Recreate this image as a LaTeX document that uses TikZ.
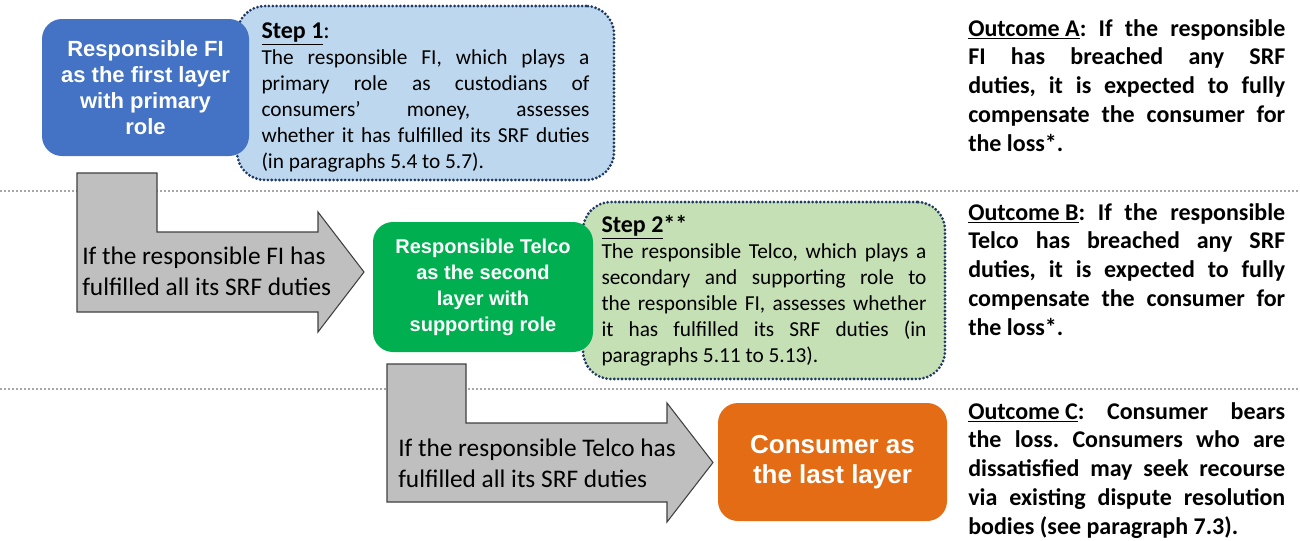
\documentclass[tikz,border=0pt]{standalone}
\usepackage{fontspec}
\setmainfont{Carlito}
\newfontfamily\layerfont{Liberation Sans}
\usepackage{xcolor}
\usetikzlibrary{positioning}
\frenchspacing

\definecolor{fiblue}{HTML}{4472C4}
\definecolor{stepblue}{HTML}{BDD7EE}
\definecolor{dotnavy}{HTML}{1F3864}
\definecolor{telcogreen}{HTML}{00B050}
\definecolor{stepgreen}{HTML}{C5E0B4}
\definecolor{consorange}{HTML}{E36C14}
\definecolor{flowgray}{HTML}{BFBFBF}
\definecolor{sepgray}{HTML}{A6A6A6}

\begin{document}
\begin{tikzpicture}[x=0.75pt, y=-0.75pt]
    \tikzset{
      layer/.style = {rectangle, rounded corners=15pt, align=center, inner sep=0pt, text=white, font=\layerfont\bfseries\fontsize{15}{19.5}\selectfont},
      stepbox/.style = {rectangle, rounded corners=21pt, draw=dotnavy, line width=2.3pt, dash pattern=on 0pt off 2.9pt, line cap=round, align=justify, inner sep=0pt, font=\fontsize{16}{19.5}\selectfont},
      outcome/.style = {anchor=north west, inner sep=0pt, text width=237.75pt, align=justify, font=\bfseries\fontsize{18}{21.6}\selectfont},
      flow/.style = {draw=black!75, fill=flowgray, line width=0.8pt, line join=miter},
      cond/.style = {anchor=west, align=left, inner sep=0pt, font=\fontsize{19}{23.5}\selectfont},
      sep/.style = {draw=sepgray, line width=1.5pt, dash pattern=on 1.5pt off 1.5pt}
    }
    \useasboundingbox (0,0) rectangle (1300,540);

    % separators between the three layers
    \draw [sep] (0,191) -- (1300,191);
    \draw [sep] (0,389) -- (1300,389);

    % steps
    \node (step1) [stepbox, fill=stepblue, text width=246pt, minimum width=282.75pt, minimum height=130.5pt] at (425.5,93)
      {{\fontsize{18}{22}\selectfont\rule{0pt}{19pt}\underline{\textbf{Step 1}}:\par}The responsible FI, which plays a\linebreak primary role as custodians of\linebreak consumers’ money, assesses\linebreak whether it has fulfilled its SRF duties\linebreak (in paragraphs 5.4 to 5.7).};
    \node (step2) [stepbox, fill=stepgreen, text width=243.75pt, minimum width=271.5pt, minimum height=132.75pt] at (764,290.5)
      {{\fontsize{18}{22}\selectfont\underline{\textbf{Step 2}}\textbf{**}\par}The responsible Telco, which plays a\linebreak secondary and supporting role to\linebreak the responsible FI, assesses whether\linebreak it has fulfilled its SRF duties (in\linebreak paragraphs 5.11 to 5.13).};

    % layers
    \node (fi) [layer, fill=fiblue, minimum width=155.25pt, minimum height=102.75pt, font=\layerfont\bfseries\fontsize{16.5}{19.5}\selectfont] at (145.5,87.5) {Responsible FI\\as the first layer\\with primary\\role};
    \node (telco) [layer, fill=telcogreen, minimum width=165pt, minimum height=97.5pt] at (483,287) {Responsible Telco\\as the second\\layer with\\supporting role};
    \node (consumer) [layer, fill=consorange, minimum width=171.75pt, minimum height=88.5pt, font=\layerfont\bfseries\fontsize{19.5}{22.5}\selectfont] at (832.5,462) {Consumer as\\the last layer};

    % bent arrows
    \draw [flow] (77,173) -- (157,173) -- (157,232) -- (318,232) -- (318,212) -- (364,272) -- (318,332) -- (318,312) -- (77,312) -- cycle;
    \node (cond1) [cond] at (82,271) {If the responsible FI has\\fulfilled all its SRF duties};
    \draw [flow] (387,364) -- (466,364) -- (466,423) -- (667,423) -- (667,403) -- (713,462.5) -- (667,522) -- (667,502) -- (387,502) -- cycle;
    \node (cond2) [cond] at (398,463) {If the responsible Telco has\\fulfilled all its SRF duties};

    % outcomes
    \node (outA) [outcome] at (968,19) {\underline{Outcome A}: If the responsible\linebreak FI has breached any SRF\linebreak duties, it is expected to fully\linebreak compensate the consumer for\linebreak the loss*.};
    \node (outB) [outcome] at (968,203) {\underline{Outcome B}: If the responsible\linebreak Telco has breached any SRF\linebreak duties, it is expected to fully\linebreak compensate the consumer for\linebreak the loss*.};
    \node (outC) [outcome] at (968,402) {\underline{Outcome C}: Consumer bears\linebreak the loss. Consumers who are\linebreak dissatisfied may seek recourse\linebreak via existing dispute resolution\linebreak bodies (see paragraph 7.3).};
\end{tikzpicture}
\end{document}
